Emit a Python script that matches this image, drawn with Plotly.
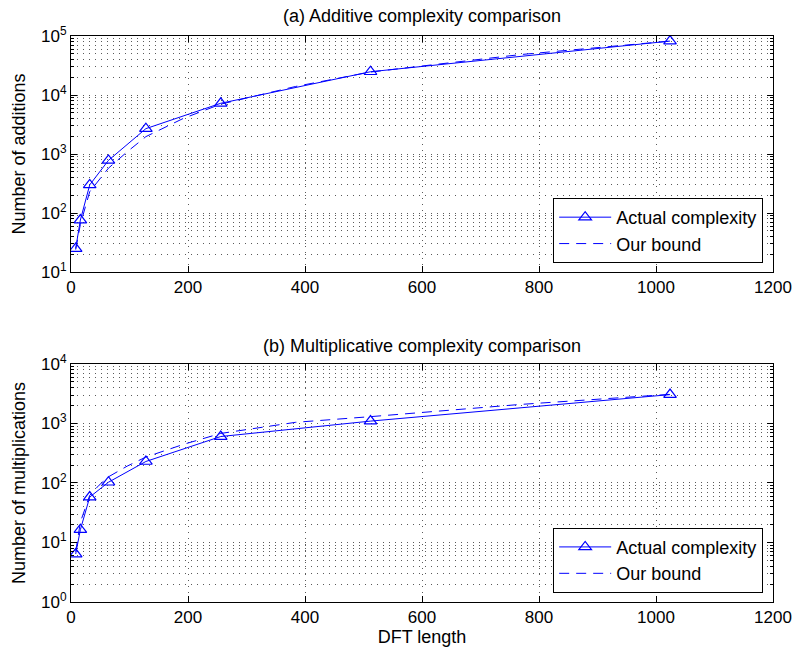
import plotly.graph_objects as go
from plotly.subplots import make_subplots

# DFT lengths where the actual operation counts were measured
dft_len = [8, 16, 32, 64, 128, 256, 512, 1024]

# (a) real additions
add_actual = [25, 76, 300, 780, 2690, 7240, 24800, 82000]
add_bound_len = [8, 16, 32, 64, 96, 128, 192, 256, 384, 512, 768, 1024]
add_bound = [24, 64, 230, 575, 1090, 1970, 4010, 7000, 13960, 24500, 48400, 82000]

# (b) real multiplications
mul_actual = [6.4, 16.4, 58, 103, 230, 604, 1097, 3060]
mul_bound_len = [8, 16, 32, 48, 64, 96, 128, 192, 256, 384, 512, 768, 1024]
mul_bound = [7, 22, 62, 92, 127, 192, 273, 445, 681, 1047, 1303, 2090, 3090]

x_ticks = [0, 200, 400, 600, 800, 1000, 1200]
add_decades = [1, 2, 3, 4, 5]
mul_decades = [0, 1, 2, 3, 4]

FONT = "Liberation Sans, Arial, Helvetica, sans-serif"
BLUE = "#0000ff"
GRID_DASH = "1px,5px"
GRID_COLOR = "#5a5a5a"

fig = make_subplots(rows=2, cols=1, vertical_spacing=0.0)

# top panel
fig.add_trace(go.Scatter(x=dft_len, y=add_actual, mode="lines+markers",
                         name="Actual complexity",
                         line=dict(color=BLUE, width=1),
                         marker=dict(symbol="triangle-up-open", size=11,
                                     color=BLUE, line=dict(width=1.2, color=BLUE)),
                         legend="legend"), row=1, col=1)
fig.add_trace(go.Scatter(x=add_bound_len, y=add_bound, mode="lines",
                         name="Our bound",
                         line=dict(color=BLUE, width=1, dash="10px,7px"),
                         legend="legend"), row=1, col=1)

# bottom panel
fig.add_trace(go.Scatter(x=dft_len, y=mul_actual, mode="lines+markers",
                         name="Actual complexity",
                         line=dict(color=BLUE, width=1),
                         marker=dict(symbol="triangle-up-open", size=11,
                                     color=BLUE, line=dict(width=1.2, color=BLUE)),
                         legend="legend2"), row=2, col=1)
fig.add_trace(go.Scatter(x=mul_bound_len, y=mul_bound, mode="lines",
                         name="Our bound",
                         line=dict(color=BLUE, width=1, dash="10px,7px"),
                         legend="legend2"), row=2, col=1)


def minor_vals(decades):
    return [m * 10 ** e for e in decades[:-1] for m in range(2, 10)]


def decade_ticks(decades):
    return [10 ** e for e in decades], [f"10<sup>{e}</sup>" for e in decades]


xaxis_common = dict(
    range=[0, 1200], tickvals=x_ticks, ticks="inside", ticklen=6,
    tickcolor="black", showline=True, linecolor="black", linewidth=1,
    mirror="allticks", showgrid=True, gridcolor=GRID_COLOR, gridwidth=1,
    griddash=GRID_DASH, zeroline=False, automargin=False,
    tickfont=dict(family=FONT, size=17, color="black"),
)
yaxis_common = dict(
    type="log", ticks="inside", ticklen=6,
    tickcolor="black", showline=True, linecolor="black", linewidth=1,
    mirror="allticks", showgrid=True, gridcolor=GRID_COLOR, gridwidth=1,
    griddash=GRID_DASH, zeroline=False, automargin=False,
    tickfont=dict(family=FONT, size=17, color="black"),
)

fig.update_xaxes(**xaxis_common)
fig.update_yaxes(**yaxis_common)

fig.update_xaxes(domain=[0, 1], row=2, col=1,
                 title=dict(text="DFT length", standoff=0,
                            font=dict(family=FONT, size=18, color="black")))

tv, tt = decade_ticks(add_decades)
fig.update_yaxes(domain=[0.583, 1.0], range=[add_decades[0], add_decades[-1]],
                 tickvals=tv, ticktext=tt, row=1, col=1,
                 minor=dict(tickvals=minor_vals(add_decades), showgrid=True,
                            gridcolor=GRID_COLOR, griddash=GRID_DASH,
                            ticks="inside", ticklen=3, tickcolor="black"),
                 title=dict(text="Number of additions", standoff=10,
                            font=dict(family=FONT, size=18, color="black")))
tv, tt = decade_ticks(mul_decades)
fig.update_yaxes(domain=[0.0, 0.4205], range=[mul_decades[0], mul_decades[-1]],
                 tickvals=tv, ticktext=tt, row=2, col=1,
                 minor=dict(tickvals=minor_vals(mul_decades), showgrid=True,
                            gridcolor=GRID_COLOR, griddash=GRID_DASH,
                            ticks="inside", ticklen=3, tickcolor="black"),
                 title=dict(text="Number of multiplications", standoff=10,
                            font=dict(family=FONT, size=18, color="black")))

legend_common = dict(
    xanchor="right", x=0.986, yanchor="bottom",
    bgcolor="white", bordercolor="black", borderwidth=1,
    font=dict(family=FONT, size=18, color="black"),
    itemwidth=52, tracegroupgap=0,
)

fig.update_layout(
    width=796, height=652,
    margin=dict(l=71, r=23, t=36, b=50),
    plot_bgcolor="white", paper_bgcolor="white",
    font=dict(family=FONT, size=17, color="black"),
    showlegend=True,
    legend=dict(y=0.599, **legend_common),
    legend2=dict(y=0.0164, **legend_common),
    annotations=[
        dict(text="(a) Additive complexity comparison", xref="paper", yref="paper",
             x=0.5, y=1.0, yshift=8, xanchor="center", yanchor="bottom",
             showarrow=False, font=dict(family=FONT, size=18, color="black")),
        dict(text="(b) Multiplicative complexity comparison", xref="paper", yref="paper",
             x=0.5, y=0.4205, yshift=6, xanchor="center", yanchor="bottom",
             showarrow=False, font=dict(family=FONT, size=18, color="black")),
    ],
)

fig.write_html("out.html")
